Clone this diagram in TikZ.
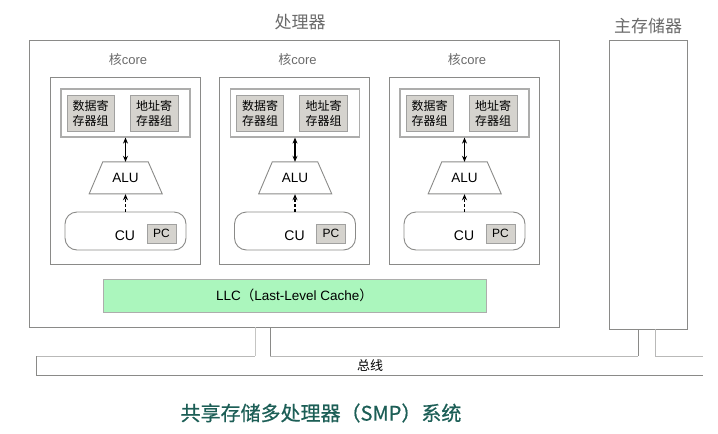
\documentclass[tikz,border=0pt]{standalone}
\usepackage{fontspec}
\setmainfont{Liberation Sans}
\newfontfamily\cjk{Noto Sans CJK SC}
\newfontfamily\cjkcap[FakeBold=0.6]{Noto Sans CJK SC}
\usetikzlibrary{arrows.meta,calc}
\definecolor{lgray}{HTML}{8A8A88}
\definecolor{tgray}{HTML}{6A6A6A}
\definecolor{boxfill}{HTML}{D5D3CE}
\definecolor{llcgreen}{HTML}{ABF6BD}
\definecolor{teal}{HTML}{1C5E56}
\tikzset{
  frame/.style={draw=lgray, line width=0.9pt, inner sep=0pt},
  regbox/.style={draw=lgray!70, line width=1.2pt, fill=white, inner sep=0pt, minimum width=129pt, minimum height=48pt},
  graybox/.style={draw=lgray!80, line width=0.8pt, fill=boxfill, inner sep=0pt, align=center, font=\cjk\fontsize{12}{15}\selectfont},
  title/.style={text=tgray, inner sep=0pt},
  tip/.tip={Stealth[length=6pt,width=5pt]},
  arr/.style={-tip, line width=1.2pt, black},
}
\begin{document}
\begin{tikzpicture}[x=1pt,y=-1pt]
\useasboundingbox (0,0) rectangle (718,434);
% processor
\draw[frame] (29,40.5) rectangle (559.5,327);
\node[title, font=\cjk\fontsize{17}{17}\selectfont] (ptitle) at (300,22) {处理器};
% main memory
\draw[frame] (609,40.5) rectangle (687,329);
\node[title, font=\cjk\fontsize{17}{17}\selectfont] (mtitle) at (648,26) {主存储器};
% cores
\foreach \i/\dx in {1/0,2/169.5,3/339}{
  \begin{scope}[xshift=\dx]
  \draw[frame] (50,77) rectangle (200,264);
  \node[title, font=\fontsize{13}{13}\selectfont] (ct\i) at (128,60) {{\cjk 核}core};
  \node[regbox] (reg\i) at (125.5,113) {};
  \node[graybox, minimum width=47pt, minimum height=36pt] (dreg\i) at (90.5,113) {数据寄\\存器组};
  \node[graybox, minimum width=48pt, minimum height=36pt] (areg\i) at (154,113) {地址寄\\存器组};
  \node[inner sep=0pt, minimum width=45pt, minimum height=32pt, font=\fontsize{13.5}{13}\selectfont] (alu\i) at (125.5,178) {ALU};
  \draw[frame] (alu\i.north west) -- (alu\i.north east) -- ++(14,32) -- ++(-73,0) -- cycle;
  \node[frame, rounded corners=12pt, minimum width=121pt, minimum height=38pt] (cu\i) at (125.5,231) {};
  \node[inner sep=0pt, font=\fontsize{14}{14}\selectfont] (cutext\i) at (125,236) {CU};
  \node[draw=lgray!80, line width=0.8pt, fill=boxfill, inner sep=0pt, minimum width=29pt, minimum height=19pt, font=\fontsize{12}{12}\selectfont] (pc\i) at (161.5,233.5) {PC};
  \draw[arr, tip-tip] (reg\i.south) -- (alu\i.north);
  \draw[arr, dash pattern=on 3pt off 2pt] (cu\i.north) -- (alu\i.south);
  \end{scope}
}
% LLC
\node[draw=lgray!70, line width=1pt, fill=llcgreen, minimum width=383pt, minimum height=33pt, inner sep=0pt, font=\fontsize{13.5}{13}\selectfont] (llc) at (294.5,295.5) {LLC{\cjk （}Last-Level Cache{\cjk ）}};
% bus
\draw[draw=lgray!60, line width=1pt] (36,356) -- (255,356) (270,356) -- (638,356) (655,356) -- (703,356);
\draw[draw=lgray, line width=1pt] (36,356) -- (36,375) -- (703,375);
\node[inner sep=0pt, font=\cjk\fontsize{13}{13}\selectfont] (bus) at (370,365.5) {总线};
% connectors
\draw[draw=lgray!50, line width=1pt] (255,327) -- (255,356);
\draw[draw=lgray, line width=1pt] (270,327) -- (270,356);
\draw[draw=lgray, line width=1pt] (638,329) -- (638,356);
\draw[draw=lgray!60, line width=1pt] (655,329) -- (655,356);
% caption
\node[inner sep=0pt, text=teal, font=\cjkcap\fontsize{20}{20}\selectfont] (cap) at (321,413) {共享存储多处理器（SMP）系统};
\end{tikzpicture}
\end{document}
